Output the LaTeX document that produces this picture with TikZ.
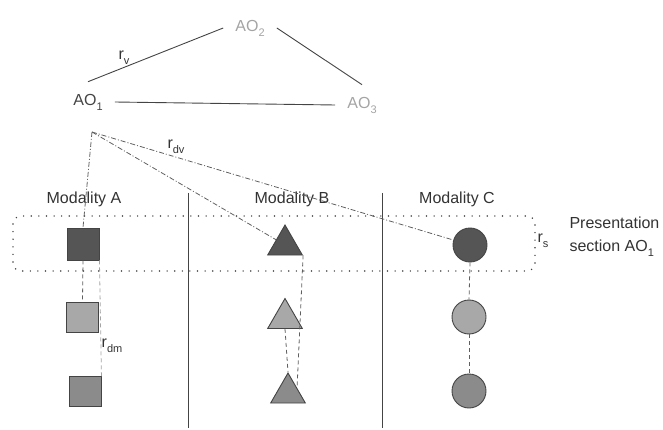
\documentclass[tikz,border=0pt]{standalone}
\usepackage{fontspec}
\setmainfont{Liberation Sans}
\usepackage{tikz}
\usetikzlibrary{shapes.geometric}
\usepackage{xcolor}
\definecolor{darkfill}{HTML}{555555}
\definecolor{lightfill}{HTML}{A8A8A8}
\definecolor{midfill}{HTML}{8B8B8B}
\definecolor{edge}{HTML}{444444}
\definecolor{faint}{HTML}{A4A4A4}
\definecolor{ink}{HTML}{333333}
\tikzset{
	obj/.style={draw=edge, line width=0.9pt, inner sep=0pt}
}
\tikzstyle{sq}=[obj, rectangle, minimum width=32, minimum height=30]
\tikzstyle{tri}=[obj, regular polygon, regular polygon sides=3, minimum size=40]
\tikzstyle{circ}=[obj, circle, minimum size=34]
\tikzstyle{ao}=[inner sep=12pt]
\tikzstyle{link}=[draw=edge!85, line width=0.8pt, dash pattern=on 4pt off 3pt]
\tikzstyle{relv}=[draw=edge!85, line width=0.8pt, dash pattern=on 5pt off 2pt on 1pt off 2pt]
\tikzstyle{section}=[draw=edge, line width=1.6pt, line cap=round, dash pattern=on 0pt off 7.6pt, rounded corners=8pt]
\newcommand{\lowsub}[1]{\raisebox{-5pt}{\fontsize{11}{11}\selectfont #1}}

\begin{document}
\begin{tikzpicture}[x=1pt, y=-1pt, font=\fontsize{16}{19}\selectfont, text=ink]
	\useasboundingbox (0,0) rectangle (663,430);
	% audio objects
	\node[ao, text=faint] (AO2) at (250,28) {AO\lowsub{2}};
	\node[ao, text=edge] (AO1) at (88,102) {AO\lowsub{1}};
	\node[ao, text=faint] (AO3) at (362,105) {AO\lowsub{3}};
	\draw[edge, line width=0.9pt] (AO1.north) -- (AO2.west);
	\draw[edge, line width=0.9pt] (AO2.east) -- (AO3.north);
	\draw[edge, line width=0.9pt] (AO1.east) -- (AO3.west);
	\node (rv) at (124,58) {r\lowsub{v}};
	% modalities
	\node (modA) at (84,199) {Modality A};
	\node (modB) at (292,199) {Modality B};
	\node (modC) at (457,199) {Modality C};
	\draw[edge, line width=1pt] (188,193) -- (188,428);
	\draw[edge, line width=1pt] (382,193) -- (382,428);
	\draw[section] (13,216) rectangle (535,271);
	\node (rs) at (543,241) {r\lowsub{s}};
	\node[anchor=west, align=left] (pres) at (566,237) {Presentation\\[4pt]section AO\lowsub{1}};
	% representations
	\node[sq, fill=darkfill, minimum height=32] (A1) at (83,244) {};
	\node[sq, fill=lightfill] (A2) at (82.5,317.5) {};
	\node[sq, fill=midfill] (A3) at (85,391.5) {};
	\node[tri, fill=darkfill] (B1) at (285,245) {};
	\node[tri, fill=lightfill] (B2) at (285,318.5) {};
	\node[tri, fill=midfill] (B3) at (288,393) {};
	\node[circ, fill=darkfill] (C1) at (470,245) {};
	\node[circ, fill=lightfill] (C2) at (469,317) {};
	\node[circ, fill=midfill] (C3) at (469,391) {};
	% relations
	\coordinate (src) at (92,132);
	\draw[relv] (src) -- (A1.north);
	\draw[relv] (src) -- (B1);
	\draw[relv] (src) -- (C1);
	\node (rdv) at (176,147) {r\lowsub{dv}};
	\draw[link] (A1.south) -- (A2.north);
	\draw[link, draw=faint] (A1.south east) -- (A3.north east);
	\draw[link] (B1.corner 3) -- (B3.side 3);
	\draw[link] (B2.side 2) -- (B3.corner 1);
	\draw[link] (C1.south) -- (C2.north);
	\draw[link] (C2.south) -- (C3.north);
	\node (rdm) at (112,346) {r\lowsub{dm}};
\end{tikzpicture}
\end{document}
